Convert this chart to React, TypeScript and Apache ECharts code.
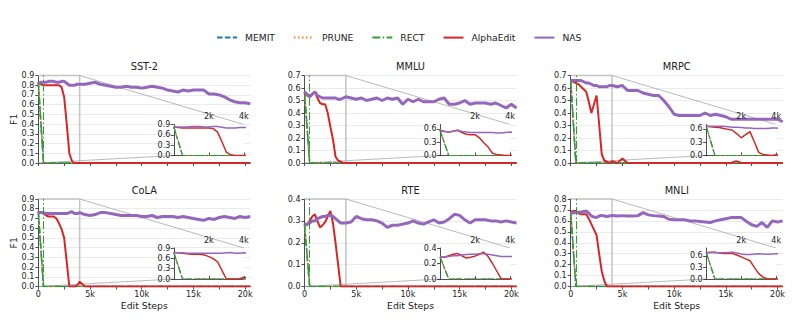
import React, { useEffect, useRef } from "react";
import * as echarts from "echarts";

// ---------- data ----------
const STEPS = [
  0, 250, 500, 750, 1000, 1250, 1500, 1750, 2000, 2250, 2500, 2750, 3000, 3250, 3500, 3750, 4000,
  4500, 5000, 5500, 6000, 6500, 7000, 7500, 8000, 8500, 9000, 9500, 10000, 10500, 11000, 11500,
  12000, 12500, 13000, 13500, 14000, 14500, 15000, 15500, 16000, 16500, 17000, 17500, 18000,
  18500, 19000, 19500, 20000, 20500,
];
const COLLAPSE_STEPS = [0, 500, 20500];
const ZOOM_RANGE = [0, 4000];
const X_MAX = 20500;

const TASKS = ["SST-2", "MMLU", "MRPC", "CoLA", "RTE", "MNLI"];
const METHODS = ["MEMIT", "PRUNE", "RECT", "AlphaEdit", "NAS"];
const Y_MAX = [0.9, 0.7, 0.7, 0.9, 0.4, 0.8];
const X_TICKS = [0, 2500, 5000, 7500, 10000, 12500, 15000, 17500, 20000];
const X_LABELS = [0, 5000, 10000, 15000, 20000];
const INSET_X_TICKS = [2000, 4000];
const INSET_Y_TICKS = [
  [0, 0.3, 0.6, 0.9],
  [0, 0.3, 0.6],
  [0, 0.3, 0.6],
  [0, 0.3, 0.6, 0.9],
  [0, 0.2, 0.4],
  [0, 0.3, 0.6],
];

// collapsed baselines (value at step 0, 500, 20500)
const SST2_MEMIT = [0.83, 0, 0];
const SST2_PRUNE = [0.83, 0, 0];
const SST2_RECT = [0.83, 0, 0];
const MMLU_MEMIT = [0.57, 0, 0];
const MMLU_PRUNE = [0.57, 0, 0];
const MMLU_RECT = [0.57, 0, 0];
const MRPC_MEMIT = [0.66, 0, 0];
const MRPC_PRUNE = [0.66, 0, 0];
const MRPC_RECT = [0.66, 0, 0];
const COLA_MEMIT = [0.77, 0, 0];
const COLA_PRUNE = [0.77, 0, 0];
const COLA_RECT = [0.77, 0, 0];
const RTE_MEMIT = [0.285, 0, 0];
const RTE_PRUNE = [0.285, 0, 0];
const RTE_RECT = [0.285, 0, 0];
const MNLI_MEMIT = [0.68, 0, 0];
const MNLI_PRUNE = [0.68, 0, 0];
const MNLI_RECT = [0.68, 0, 0];

const SST2_ALPHAEDIT = [
  0.83, 0.81, 0.8, 0.8, 0.8, 0.8, 0.8, 0.8, 0.8, 0.78, 0.68, 0.4, 0.1, 0.02, 0, 0, 0,
  0, 0, 0, 0, 0, 0, 0, 0, 0, 0, 0, 0, 0, 0, 0, 0, 0, 0, 0, 0, 0, 0, 0, 0, 0, 0, 0, 0, 0, 0, 0, 0, 0,
];
const SST2_NAS = [
  0.82, 0.83, 0.83, 0.83, 0.84, 0.84, 0.84, 0.83, 0.83, 0.84, 0.84, 0.82, 0.8, 0.8, 0.8, 0.81, 0.81,
  0.81, 0.82, 0.83, 0.81, 0.8, 0.79, 0.78, 0.78, 0.79, 0.78, 0.78, 0.77, 0.78, 0.79, 0.78, 0.77,
  0.75, 0.74, 0.73, 0.75, 0.74, 0.75, 0.75, 0.75, 0.71, 0.71, 0.7, 0.68, 0.65, 0.63, 0.62, 0.62, 0.61,
];
const MMLU_ALPHAEDIT = [
  0.56, 0.54, 0.53, 0.55, 0.57, 0.52, 0.48, 0.47, 0.47, 0.4, 0.29, 0.19, 0.05, 0.02, 0.01, 0, 0,
  0, 0, 0, 0, 0, 0, 0, 0, 0, 0, 0, 0, 0, 0, 0, 0, 0, 0, 0, 0, 0, 0, 0, 0, 0, 0, 0, 0, 0, 0, 0, 0, 0,
];
const MMLU_NAS = [
  0.57, 0.55, 0.53, 0.55, 0.57, 0.54, 0.53, 0.52, 0.52, 0.52, 0.52, 0.52, 0.52, 0.51, 0.51, 0.52, 0.53,
  0.52, 0.51, 0.52, 0.5, 0.51, 0.52, 0.5, 0.52, 0.51, 0.52, 0.47, 0.51, 0.49, 0.51, 0.49, 0.49,
  0.49, 0.51, 0.52, 0.47, 0.47, 0.48, 0.5, 0.47, 0.48, 0.48, 0.48, 0.47, 0.48, 0.46, 0.44, 0.47, 0.44,
];
const MRPC_ALPHAEDIT = [
  0.66, 0.65, 0.64, 0.63, 0.61, 0.59, 0.57, 0.49, 0.4, 0.47, 0.54, 0.31, 0.07, 0.02, 0.01, 0, 0.015,
  0, 0.035, 0, 0, 0, 0, 0, 0, 0, 0, 0, 0, 0, 0, 0, 0, 0, 0, 0, 0, 0, 0, 0, 0.015, 0, 0, 0, 0, 0, 0, 0, 0, 0,
];
const MRPC_NAS = [
  0.66, 0.66, 0.66, 0.66, 0.66, 0.65, 0.64, 0.64, 0.63, 0.62, 0.62, 0.61, 0.61, 0.61, 0.61, 0.62, 0.62,
  0.61, 0.62, 0.58, 0.58, 0.58, 0.56, 0.55, 0.54, 0.54, 0.5, 0.45, 0.39, 0.38, 0.38, 0.38, 0.38,
  0.38, 0.4, 0.38, 0.39, 0.38, 0.37, 0.35, 0.35, 0.35, 0.35, 0.35, 0.35, 0.35, 0.35, 0.35, 0.35, 0.33,
];
const COLA_ALPHAEDIT = [
  0.77, 0.76, 0.75, 0.73, 0.72, 0.72, 0.72, 0.7, 0.65, 0.59, 0.5, 0.25, 0, 0, 0, 0.01, 0.05,
  0, 0, 0, 0, 0, 0, 0, 0, 0, 0, 0, 0, 0, 0, 0, 0, 0, 0, 0, 0, 0, 0, 0, 0, 0, 0, 0, 0, 0, 0, 0, 0, 0,
];
const COLA_NAS = [
  0.76, 0.76, 0.76, 0.75, 0.75, 0.75, 0.75, 0.75, 0.75, 0.75, 0.75, 0.75, 0.76, 0.77, 0.75, 0.75, 0.76,
  0.74, 0.73, 0.74, 0.76, 0.76, 0.75, 0.74, 0.73, 0.73, 0.73, 0.73, 0.72, 0.72, 0.73, 0.71, 0.72,
  0.72, 0.72, 0.71, 0.72, 0.71, 0.7, 0.69, 0.68, 0.7, 0.69, 0.71, 0.72, 0.71, 0.7, 0.72, 0.71, 0.72,
];
const RTE_ALPHAEDIT = [
  0.285, 0.28, 0.3, 0.32, 0.33, 0.3, 0.27, 0.28, 0.295, 0.32, 0.345, 0.29, 0.2, 0.1, 0, 0, 0,
  0, 0, 0, 0, 0, 0, 0, 0, 0, 0, 0, 0, 0, 0, 0, 0, 0, 0, 0, 0, 0, 0, 0, 0, 0, 0, 0, 0, 0, 0, 0, 0, 0,
];
const RTE_NAS = [
  0.285, 0.285, 0.29, 0.3, 0.3, 0.31, 0.315, 0.32, 0.32, 0.325, 0.325, 0.32, 0.31, 0.3, 0.29, 0.29, 0.29,
  0.295, 0.32, 0.31, 0.305, 0.305, 0.3, 0.29, 0.27, 0.28, 0.28, 0.285, 0.29, 0.3, 0.29, 0.285, 0.295,
  0.305, 0.29, 0.295, 0.31, 0.33, 0.325, 0.305, 0.29, 0.305, 0.305, 0.305, 0.3, 0.3, 0.295, 0.3, 0.295, 0.29,
];
const MNLI_ALPHAEDIT = [
  0.68, 0.69, 0.69, 0.67, 0.66, 0.66, 0.66, 0.62, 0.57, 0.52, 0.47, 0.3, 0.14, 0.05, 0, 0, 0,
  0, 0, 0, 0, 0, 0, 0, 0, 0, 0, 0, 0, 0, 0, 0, 0, 0, 0, 0, 0, 0, 0, 0, 0, 0, 0, 0, 0, 0, 0, 0, 0, 0,
];
const MNLI_NAS = [
  0.67, 0.675, 0.675, 0.68, 0.68, 0.685, 0.69, 0.67, 0.645, 0.635, 0.63, 0.645, 0.65, 0.645, 0.64, 0.645, 0.65,
  0.645, 0.648, 0.645, 0.645, 0.648, 0.675, 0.655, 0.648, 0.645, 0.64, 0.615, 0.61, 0.61, 0.61, 0.6, 0.6,
  0.595, 0.59, 0.585, 0.6, 0.61, 0.62, 0.63, 0.63, 0.63, 0.595, 0.565, 0.55, 0.585, 0.54, 0.6, 0.59, 0.6,
];

const MEMIT_DATA = [SST2_MEMIT, MMLU_MEMIT, MRPC_MEMIT, COLA_MEMIT, RTE_MEMIT, MNLI_MEMIT];
const PRUNE_DATA = [SST2_PRUNE, MMLU_PRUNE, MRPC_PRUNE, COLA_PRUNE, RTE_PRUNE, MNLI_PRUNE];
const RECT_DATA = [SST2_RECT, MMLU_RECT, MRPC_RECT, COLA_RECT, RTE_RECT, MNLI_RECT];
const ALPHAEDIT_DATA = [SST2_ALPHAEDIT, MMLU_ALPHAEDIT, MRPC_ALPHAEDIT, COLA_ALPHAEDIT, RTE_ALPHAEDIT, MNLI_ALPHAEDIT];
const NAS_DATA = [SST2_NAS, MMLU_NAS, MRPC_NAS, COLA_NAS, RTE_NAS, MNLI_NAS];

// ---------- layout / style ----------
const FONT = "DejaVu Sans";
const INK = "#222";
const COLORS: Record<string, string> = {
  MEMIT: "#1f77b4",
  PRUNE: "#ff7f0e",
  RECT: "#2ca02c",
  AlphaEdit: "#d62728",
  NAS: "#9467bd",
};
const DASH = [5.5, 2.4];
const DOT = [1.5, 2.5];
const DASHDOT = [8, 2.4, 1.5, 2.4];

const COL_LEFT = [38.3, 304.5, 570.7];
const ROW_TOP = [75.5, 199];
const PLOT_W = 212;
const PLOT_H = 87.5;
const INSET_DX = 135.5;
const INSET_W = 70;
const INSET_H = 31;
const INSET_GAP = 7.5;

const pairs = (xs: number[], ys: number[]) => xs.map((x, k) => [x, ys[k]]);
const fmt1 = (v: number) => v.toFixed(1);

export default function App() {
  const ref = useRef<HTMLDivElement>(null);

  useEffect(() => {
    const el = ref.current!;
    const chart = echarts.init(el, null, { renderer: "svg" });

    const grids: any[] = [];
    const xAxes: any[] = [];
    const yAxes: any[] = [];
    const series: any[] = [];

    const axisLine = { show: true, lineStyle: { color: INK, width: 0.8 } };
    const axisTick = { show: true, length: 3, lineStyle: { color: INK, width: 0.8 } };
    const label = { fontSize: 8, color: INK, fontFamily: FONT };

    TASKS.forEach((_, i) => {
      const col = i % 3;
      const row = Math.floor(i / 3);
      grids.push({
        left: COL_LEFT[col],
        top: ROW_TOP[row],
        width: PLOT_W,
        height: PLOT_H,
        containLabel: false,
        outerBoundsMode: "none",
      });
    });
    TASKS.forEach((_, i) => {
      const col = i % 3;
      const row = Math.floor(i / 3);
      grids.push({
        left: COL_LEFT[col] + INSET_DX,
        top: ROW_TOP[row] + PLOT_H - INSET_GAP - INSET_H,
        width: INSET_W,
        height: INSET_H,
        show: true,
        backgroundColor: "#fff",
        borderWidth: 0,
        z: 3,
        containLabel: false,
        outerBoundsMode: "none",
      });
    });

    TASKS.forEach((_, i) => {
      const row = Math.floor(i / 3);
      xAxes.push({
        type: "value",
        gridIndex: i,
        min: 0,
        max: X_MAX,
        axisLine,
        axisTick: { ...axisTick, customValues: X_TICKS },
        axisLabel: {
          ...label,
          show: row === 1,
          margin: 4,
          customValues: X_LABELS,
          formatter: (v: number) => (v === 0 ? "0" : v / 1000 + "k"),
        },
        splitLine: { show: false },
        name: row === 1 ? "Edit Steps" : "",
        nameLocation: "middle",
        nameGap: 14.5,
        nameTextStyle: { fontSize: 9.3, color: INK, fontFamily: FONT },
      });
    });
    TASKS.forEach((_, i) => {
      xAxes.push({
        type: "value",
        gridIndex: 6 + i,
        position: "top",
        min: ZOOM_RANGE[0],
        max: ZOOM_RANGE[1],
        z: 4,
        axisLine: { show: false },
        axisTick: { ...axisTick, customValues: INSET_X_TICKS },
        axisLabel: {
          ...label,
          margin: 4,
          customValues: INSET_X_TICKS,
          formatter: (v: number) => v / 1000 + "k",
        },
        splitLine: { show: false },
      });
    });
    TASKS.forEach((_, i) => {
      xAxes.push({
        type: "value",
        gridIndex: 6 + i,
        position: "bottom",
        min: ZOOM_RANGE[0],
        max: ZOOM_RANGE[1],
        z: 4,
        axisLine,
        axisTick: { show: false },
        axisLabel: { show: false },
        splitLine: { show: false },
      });
    });

    TASKS.forEach((_, i) => {
      const col = i % 3;
      yAxes.push({
        type: "value",
        gridIndex: i,
        min: 0,
        max: Y_MAX[i],
        interval: 0.1,
        axisLine,
        axisTick,
        axisLabel: { ...label, margin: 4, formatter: fmt1 },
        splitLine: { show: true, lineStyle: { color: "#e6e6e6", width: 0.8 } },
        name: col === 0 ? "F1" : "",
        nameLocation: "middle",
        nameGap: 20,
        nameTextStyle: { fontSize: 9.3, color: INK, fontFamily: FONT },
      });
    });
    TASKS.forEach((_, i) => {
      yAxes.push({
        type: "value",
        gridIndex: 6 + i,
        min: 0,
        max: Y_MAX[i],
        z: 4,
        axisLine,
        axisTick: { ...axisTick, customValues: INSET_Y_TICKS[i] },
        axisLabel: { ...label, margin: 3.5, customValues: INSET_Y_TICKS[i], formatter: fmt1 },
        splitLine: { show: false },
      });
    });

    const line = (
      name: string,
      data: number[][],
      ax: number,
      width: number,
      type: any,
      z: number,
      extra: any = {}
    ) => ({
      type: "line",
      name,
      xAxisIndex: ax,
      yAxisIndex: ax,
      data,
      color: COLORS[name],
      symbol: "none",
      showSymbol: false,
      silent: true,
      z,
      emphasis: { disabled: true },
      itemStyle: { color: COLORS[name] },
      lineStyle: { color: COLORS[name], width, type },
      ...extra,
    });

    TASKS.forEach((_, i) => {
      [false, true].forEach((inset) => {
        const ax = inset ? 6 + i : i;
        const z = inset ? 5 : 2;
        const w = inset ? 1.2 : 1.5;
        series.push(line("MEMIT", pairs(COLLAPSE_STEPS, MEMIT_DATA[i]), ax, w, DASH, z));
        series.push(line("PRUNE", pairs(COLLAPSE_STEPS, PRUNE_DATA[i]), ax, w, DOT, z));
        series.push(
          line("RECT", pairs(COLLAPSE_STEPS, RECT_DATA[i]), ax, w, DASHDOT, z,
            inset
              ? {}
              : {
                  markLine: {
                    silent: true,
                    symbol: ["none", "none"],
                    label: { show: false },
                    lineStyle: { color: COLORS.RECT, width: 1, type: DASHDOT },
                    data: [{ xAxis: COLLAPSE_STEPS[1] }],
                  },
                })
        );
        series.push(line("AlphaEdit", pairs(STEPS, ALPHAEDIT_DATA[i]), ax, inset ? 1.5 : 2, "solid", z));
        series.push(line("NAS", pairs(STEPS, NAS_DATA[i]), ax, inset ? 1.5 : 3, "solid", z));
      });
    });

    const option: any = {
      animation: false,
      backgroundColor: "#fff",
      textStyle: { fontFamily: FONT },
      legend: {
        top: 27,
        left: 211,
        itemWidth: 20,
        itemHeight: 14,
        itemGap: 18,
        data: METHODS,
        itemStyle: { opacity: 0, borderWidth: 0 },
        textStyle: { fontSize: 9.2, color: INK, fontFamily: FONT, padding: [0, 0, 0, 3] },
      },
      grid: grids,
      xAxis: xAxes,
      yAxis: yAxes,
      series,
    };
    chart.setOption(option);

    const g: any[] = [];
    TASKS.forEach((name, i) => {
      const col = i % 3;
      const row = Math.floor(i / 3);
      g.push({
        type: "text",
        x: COL_LEFT[col] + PLOT_W / 2,
        y: ROW_TOP[row] - 9,
        z: 10,
        style: {
          text: name,
          fill: INK,
          fontSize: 9.8,
          fontFamily: FONT,
          textAlign: "center",
          textVerticalAlign: "middle",
        },
      });
      const m0 = chart.convertToPixel({ xAxisIndex: i, yAxisIndex: i } as any, [ZOOM_RANGE[0], 0]) as number[];
      const m1 = chart.convertToPixel({ xAxisIndex: i, yAxisIndex: i } as any, [ZOOM_RANGE[1], Y_MAX[i]]) as number[];
      const n0 = chart.convertToPixel({ xAxisIndex: 6 + i, yAxisIndex: 6 + i } as any, [ZOOM_RANGE[0], 0]) as number[];
      const n1 = chart.convertToPixel({ xAxisIndex: 6 + i, yAxisIndex: 6 + i } as any, [ZOOM_RANGE[1], Y_MAX[i]]) as number[];
      g.push({
        type: "polyline",
        z: 1,
        silent: true,
        shape: { points: [[m0[0], m1[1]], [m1[0], m1[1]], [m1[0], m0[1]]] },
        style: { stroke: "#c4c4c4", lineWidth: 1.5, fill: null },
      });
      g.push({
        type: "line",
        z: 1,
        silent: true,
        shape: { x1: m1[0], y1: m1[1], x2: n1[0], y2: n1[1] },
        style: { stroke: "#a8a8a8", lineWidth: 0.8 },
      });
      g.push({
        type: "line",
        z: 1,
        silent: true,
        shape: { x1: m0[0], y1: m0[1], x2: n0[0], y2: n0[1] },
        style: { stroke: "#a8a8a8", lineWidth: 0.8 },
      });
    });
    chart.setOption({ graphic: g });

    return () => chart.dispose();
  }, []);

  return (
    <div
      ref={ref}
      style={{ position: "absolute", left: 0, top: 0, width: 793, height: 320, background: "#fff" }}
    />
  );
}
